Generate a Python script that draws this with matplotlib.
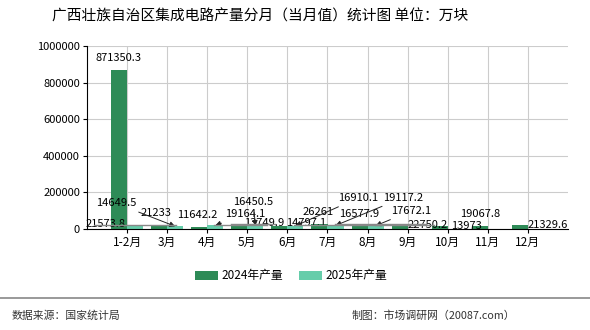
import matplotlib
matplotlib.use('Agg')
import matplotlib.pyplot as plt
import numpy as np

plt.rcParams['font.family'] = ['Noto Sans CJK SC', 'DejaVu Sans']

months = ['1-2月', '3月', '4月', '5月', '6月', '7月', '8月', '9月', '10月', '11月', '12月']
y2024 = [871350.3, 21233, 11642.2, 13749.9, 14797.1, 26261, 16577.9, 22750.2, 13973, 19067.8, 21329.6]
y2025 = [21573.8, 14649.5, 19164.1, 16450.5, 16910.1, 19117.2, 17672.1]
yticks = [0, 200000, 400000, 600000, 800000, 1000000]

# label offsets in pixels (mimic the repelled labels of the original)
off2024 = [(-1, 12), (-3, 12), (-2, 12), (25, 3), (27, 3), (-1, 12), (0, 12), (28, 0), (27, 0), (0, 12), (28, 0)]
off2025 = [(-30, 1), (-59, 23), (30, 11), (-2, 24), (63, 28), (68, 28), (36, 15)]
arrow2025 = [False, True, True, True, True, True, True]

c24 = '#2e8b57'
c25 = '#66cdaa'

fig = plt.figure(figsize=(5.9, 3.3), dpi=100)
ax = fig.add_axes([87/590, 1-229/330, 481/590, 183/330])

x = np.arange(len(months))
w = 0.4
ax.bar(x[:len(y2024)] - w/2, y2024, w, color=c24, label='2024年产量', zorder=2)
ax.bar(x[:len(y2025)] + w/2, y2025, w, color=c25, label='2025年产量', zorder=2)

ax.set_xlim(-1, 11)
ax.set_ylim(0, 1000000)
ax.set_xticks(x)
ax.set_xticklabels(months, fontsize=8.5)
ax.set_yticks(yticks)
ax.set_yticklabels([str(t) for t in yticks], fontsize=8)
ax.grid(True, color='#cccccc', lw=0.8, zorder=0)
ax.set_axisbelow(True)
for s in ['top', 'right']:
    ax.spines[s].set_visible(False)
ax.spines['left'].set_linewidth(0.8)
ax.spines['bottom'].set_linewidth(0.8)
ax.tick_params(length=3, width=0.8, pad=2)

def fmt(v):
    return ('%.1f' % v).rstrip('0').rstrip('.')

for i, v in enumerate(y2024):
    dx, dy = off2024[i]
    ax.annotate(fmt(v), (x[i] - w/2, v), xytext=(dx, dy), textcoords='offset pixels',
                ha='center', va='center', fontsize=8, zorder=4)

arrowed = []
for i, v in enumerate(y2025):
    dx, dy = off2025[i]
    ap = dict(arrowstyle='-|>', color='#222222', lw=0.7, shrinkA=2, shrinkB=0,
              mutation_scale=8) if arrow2025[i] else None
    t = ax.annotate(fmt(v), (x[i] + w/2, v), xytext=(dx, dy), textcoords='offset pixels',
                    ha='center', va='center', fontsize=8, arrowprops=ap, zorder=4)
    if arrow2025[i]:
        arrowed.append(t)

fig.text(260/590, 1-16/330, '广西壮族自治区集成电路产量分月（当月值）统计图 单位：万块',
         ha='center', va='center', fontsize=10.6)

fig.legend(loc='center', bbox_to_anchor=(291/590, 1-276/330), ncol=2, frameon=False,
           fontsize=8.5, handlelength=1.9, handleheight=0.75, columnspacing=1.4,
           handletextpad=0.3)

fig.add_artist(plt.Line2D([0, 1], [1-298/330, 1-298/330], color='#888888', lw=1.2))
fig.text(12/590, 1-316/330, '数据来源：国家统计局', ha='left', va='center', fontsize=7.8, color='#333333')
fig.text(352/590, 1-316/330, '制图：市场调研网（20087.com）', ha='left', va='center', fontsize=7.8, color='#333333')

# gray underline under the repelled labels
fig.canvas.draw()
r = fig.canvas.get_renderer()
for t in arrowed:
    bb = t.get_window_extent(r)
    yy = (bb.y0 + 1) / fig.bbox.height
    fig.add_artist(plt.Line2D([(bb.x0 - 2) / fig.bbox.width, (bb.x1 + 2) / fig.bbox.width], [yy, yy],
                              color='#888888', lw=1.0, zorder=3))

fig.savefig('out.png', dpi=100)
